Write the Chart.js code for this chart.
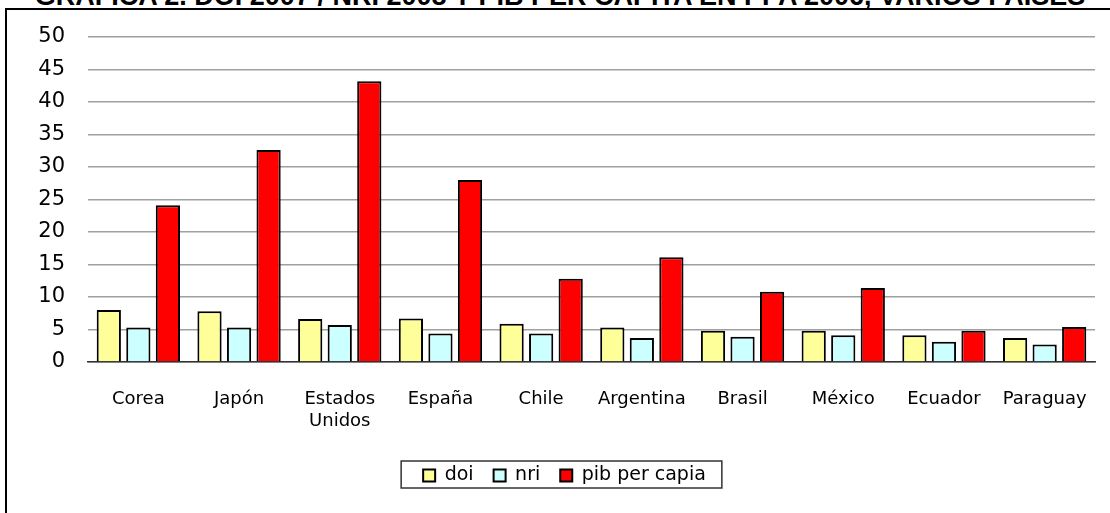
<!DOCTYPE html>
<html>
<head>
<meta charset="utf-8">
<script src="https://cdn.jsdelivr.net/npm/chart.js@4.4.1/dist/chart.umd.min.js"></script>
<style>
  html, body { margin: 0; padding: 0; background: #fff; overflow: hidden; }
  #wrap { position: relative; width: 1110px; height: 513px; }
  #title {
    position: absolute; left: 0; top: -17px; width: 1120px; text-align: center;
    font: bold 27px "Liberation Sans", Arial, sans-serif; line-height: 27px; color: #000;
    white-space: nowrap;
  }
  #frame {
    position: absolute; left: 5px; top: 8px; width: 1200px; height: 600px;
    border-left: 2px solid #000; border-top: 2px solid #000;
  }
  canvas { position: absolute; left: 0; top: 0; }
</style>
</head>
<body>
<div id="wrap">
  <div id="title">GRÁFICA 2. DOI 2007 / NRI 2008 Y PIB PER CÁPITA EN PPA 2006, VARIOS PAÍSES</div>
  <div id="frame"></div>
  <canvas id="chart" width="1110" height="513"></canvas>
</div>
<script>
// Data
const countries = ['Corea', 'Japón', ['Estados', 'Unidos'], 'España', 'Chile', 'Argentina', 'Brasil', 'México', 'Ecuador', 'Paraguay'];
const doi = [8.0, 7.8, 6.6, 6.7, 5.9, 5.3, 4.8, 4.8, 4.1, 3.7];
const nri = [5.3, 5.3, 5.7, 4.4, 4.4, 3.7, 3.9, 4.1, 3.1, 2.7];
const pib = [24.1, 32.6, 43.2, 28.0, 12.8, 16.1, 10.8, 11.4, 4.8, 5.4];
const yTicks = [0, 5, 10, 15, 20, 25, 30, 35, 40, 45, 50];

const FONT = '"DejaVu Sans", Verdana, sans-serif';

// Box around the legend, like the spreadsheet original
const legendBox = {
  id: 'legendBox',
  afterDraw(chart) {
    const boxes = chart.legend.legendHitBoxes;
    if (!boxes || !boxes.length) return;
    const left = Math.min(...boxes.map(b => b.left)) - 22;
    const right = Math.max(...boxes.map(b => b.left + b.width)) + 16;
    const top = boxes[0].top - 5;
    const ctx = chart.ctx;
    ctx.save();
    ctx.strokeStyle = '#333';
    ctx.lineWidth = 1.5;
    ctx.strokeRect(left, top, right - left, 27);
    ctx.restore();
  }
};

const ctx = document.getElementById('chart').getContext('2d');
new Chart(ctx, {
  type: 'bar',
  data: {
    labels: countries,
    datasets: [
      { label: 'doi', data: doi, backgroundColor: '#FFFF99', borderColor: '#000', borderWidth: 2 },
      { label: 'nri', data: nri, backgroundColor: '#CCFFFF', borderColor: '#000', borderWidth: 2 },
      { label: 'pib per capia', data: pib, backgroundColor: '#FF0000', borderColor: '#000', borderWidth: 2 }
    ]
  },
  options: {
    responsive: false,
    animation: false,
    datasets: {
      bar: { categoryPercentage: 0.88, barPercentage: 0.82 }
    },
    layout: {
      padding: { left: 34, right: 15, top: 37, bottom: 18 }
    },
    plugins: {
      title: { display: false },
      tooltip: { enabled: false },
      legend: {
        position: 'bottom',
        labels: {
          color: '#000',
          font: { family: FONT, size: 19 },
          boxWidth: 12,
          boxHeight: 12,
          padding: 20
        }
      }
    },
    scales: {
      x: {
        grid: { display: false, drawTicks: false },
        border: { display: true, color: '#333', width: 1.5 },
        ticks: {
          color: '#000',
          padding: 27,
          maxRotation: 0,
          autoSkip: false,
          font: { family: FONT, size: 18 }
        },
        afterFit(scale) {
          scale.height = 84;
          scale.paddingLeft = 0;
          scale.paddingRight = 0;
        }
      },
      y: {
        min: 0,
        max: 50,
        afterBuildTicks(scale) { scale.ticks = yTicks.map(v => ({ value: v })); },
        grid: { color: '#a0a0a0', lineWidth: 1.5, drawTicks: false },
        border: { display: false },
        ticks: {
          color: '#000',
          padding: 23,
          font: { family: FONT, size: 21 }
        },
        afterFit(scale) {
          scale.width = 54;
          scale.paddingTop = 0;
          scale.paddingBottom = 0;
        }
      }
    }
  },
  plugins: [legendBox]
});
</script>
</body>
</html>
